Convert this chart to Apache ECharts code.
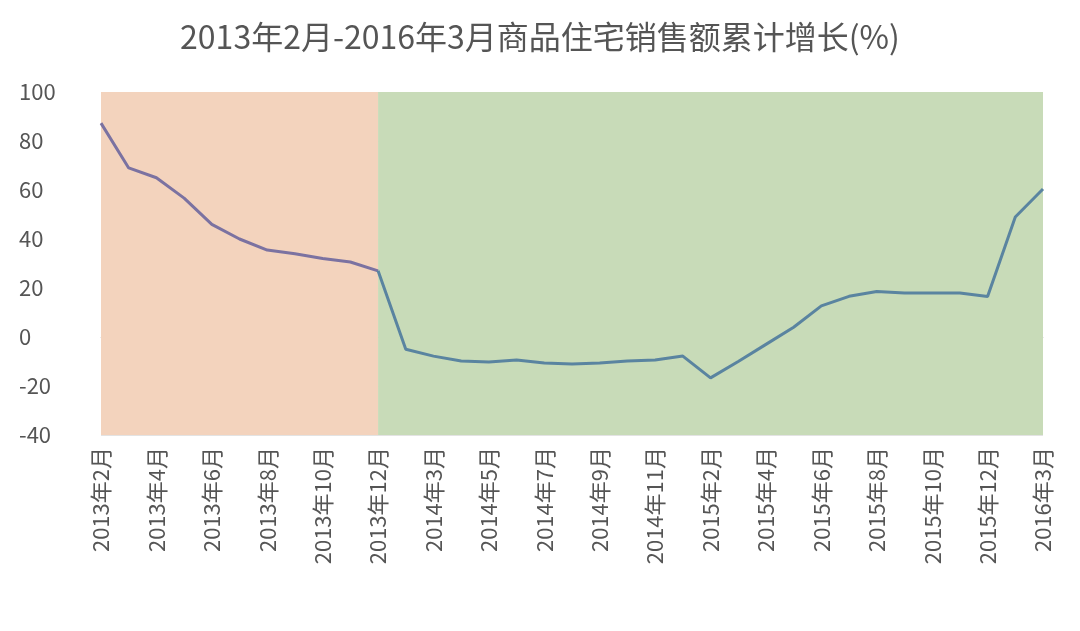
<!DOCTYPE html>
<html>
<head>
<meta charset="utf-8">
<script src="https://cdn.jsdelivr.net/npm/echarts@6/dist/echarts.min.js"></script>
<style>html,body{margin:0;padding:0;background:#fff}#chart{width:1080px;height:631px}</style>
</head>
<body>
<div id="chart"></div>
<script>
var months = [];
[[2013, 2, 12], [2014, 2, 12], [2015, 2, 12], [2016, 2, 3]].forEach(function (y) {
    for (var m = y[1]; m <= y[2]; m++) months.push(y[0] + '年' + m + '月');
});
var growth = [87.3, 69, 65, 56.7, 46, 40, 35.5, 34, 32, 30.6, 27,
    -5, -7.8, -9.8, -10.2, -9.4, -10.6, -11, -10.6, -9.8, -9.4, -7.8,
    -16.7, -10, -3, 4, 12.7, 16.6, 18.6, 18, 18, 18, 16.5,
    49, 60.4];
var yTicks = [-40, 100, 20];
var splitIdx = 10;

// split the line into two coloured parts sharing the boundary point
var part1 = growth.map(function (v, i) { return i <= splitIdx ? v : null; });
var part2 = growth.map(function (v, i) { return i >= splitIdx ? v : null; });

var chart = echarts.init(document.getElementById('chart'));
chart.setOption({
    animation: false,
    title: {
        text: '2013年2月-2016年3月商品住宅销售额累计增长(%)',
        left: 'center', top: 16,
        textStyle: {fontFamily: 'Noto Sans CJK SC', fontSize: 32, fontWeight: 'normal', color: '#555'}
    },
    grid: {left: 101, right: 37, top: 92, bottom: 196},
    xAxis: {
        type: 'category',
        data: months,
        boundaryGap: false,
        axisLine: {lineStyle: {color: '#ccc'}},
        axisTick: {show: false},
        axisLabel: {
            interval: 1, rotate: 90, color: '#555', fontSize: 22,
            fontFamily: 'Noto Sans CJK SC', margin: 12
        }
    },
    yAxis: {
        type: 'value',
        min: yTicks[0], max: yTicks[1], interval: yTicks[2],
        axisLine: {show: false},
        axisTick: {show: false},
        splitLine: {lineStyle: {color: '#e3e3e3'}},
        axisLabel: {color: '#555', fontSize: 22, fontFamily: 'Noto Sans CJK SC', margin: 82, align: 'left'}
    },
    series: [{
        type: 'line',
        data: [],
        markArea: {
            silent: true,
            data: [
                [{xAxis: 0, yAxis: yTicks[1], itemStyle: {color: '#f3d3bd'}}, {xAxis: splitIdx, yAxis: yTicks[0]}],
                [{xAxis: splitIdx, yAxis: yTicks[1], itemStyle: {color: '#c8dbb8'}}, {xAxis: months.length - 1, yAxis: yTicks[0]}]
            ]
        }
    }, {
        type: 'line', data: part1, symbol: 'none',
        lineStyle: {width: 3, color: '#7b72a1'}
    }, {
        type: 'line', data: part2, symbol: 'none',
        lineStyle: {width: 3, color: '#5a84a0'}
    }]
});
</script>
</body>
</html>
